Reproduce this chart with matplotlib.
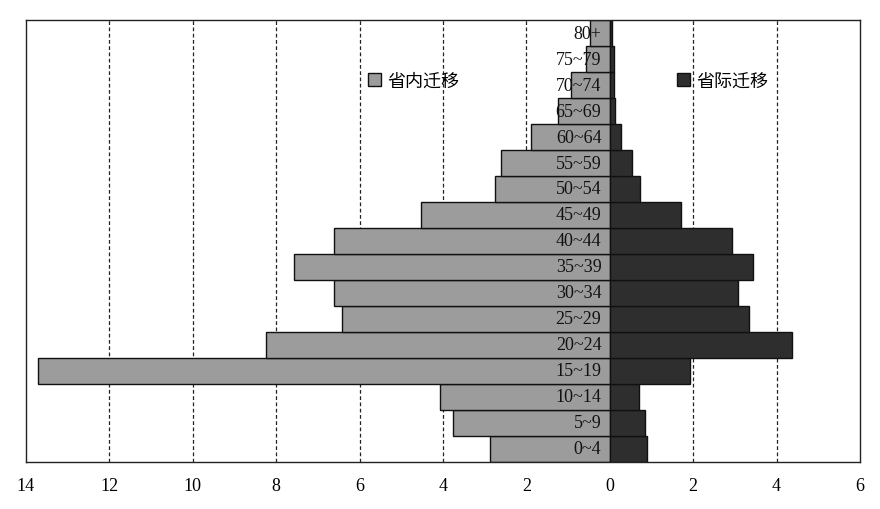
import numpy as np
import matplotlib
matplotlib.use('Agg')
import matplotlib.pyplot as plt
from matplotlib.patches import Patch

# age groups from bottom to top
ages = ['0~4', '5~9', '10~14', '15~19', '20~24', '25~29', '30~34', '35~39',
        '40~44', '45~49', '50~54', '55~59', '60~64', '65~69', '70~74', '75~79', '80+']
intra = [2.86, 3.77, 4.08, 13.70, 8.25, 6.43, 6.62, 7.57,
         6.62, 4.53, 2.76, 2.60, 1.88, 1.24, 0.92, 0.58, 0.48]
inter = [0.90, 0.85, 0.69, 1.93, 4.38, 3.34, 3.07, 3.44,
         2.94, 1.71, 0.72, 0.54, 0.26, 0.13, 0.10, 0.10, 0.06]
xticks = [-14, -12, -10, -8, -6, -4, -2, 0, 2, 4, 6]
legend_names = ['省内迁移', '省际迁移']

plt.rcParams['font.family'] = ['Liberation Serif', 'DejaVu Serif']

fig = plt.figure(figsize=(8.8, 5.1), dpi=100)
ax = fig.add_axes([0.0295, 0.0922, 0.9477, 0.8666])

y = np.arange(len(ages))
c_left = '#9c9c9c'
c_right = '#2e2e2e'
ax.barh(y, -np.array(intra), height=1.0, color=c_left, edgecolor='#111111', linewidth=1.0, zorder=2)
ax.barh(y, inter, height=1.0, color=c_right, edgecolor='#111111', linewidth=1.0, zorder=2)

for yi, lab in zip(y, ages):
    ax.text(-0.2, yi, lab, ha='right', va='center', fontsize=13, color='#111111', zorder=3)

ax.set_xlim(-14, 6)
ax.set_ylim(-0.5, len(ages) - 0.5)
ax.set_xticks(xticks)
ax.set_xticklabels([str(abs(v)) for v in xticks], fontsize=13)
ax.tick_params(axis='x', length=0, pad=11)
ax.set_yticks([])
for v in xticks[1:-1]:
    if v != 0:
        ax.axvline(v, color='#222222', linewidth=0.9, linestyle=(0, (3, 2)), zorder=1)
for s in ax.spines.values():
    s.set_color('#222222')
    s.set_linewidth(1.0)

cjk = ['Noto Sans CJK SC', 'DejaVu Sans']
leg_kw = dict(frameon=False, loc='center left', borderpad=0, borderaxespad=0,
              handlelength=0.7, handleheight=0.7, handletextpad=0.35,
              prop={'family': cjk, 'size': 13})
leg1 = ax.legend(handles=[Patch(facecolor=c_left, edgecolor='#111111')], labels=[legend_names[0]],
                 bbox_to_anchor=(0.41, 0.862), **leg_kw)
ax.add_artist(leg1)
ax.legend(handles=[Patch(facecolor=c_right, edgecolor='#111111')], labels=[legend_names[1]],
          bbox_to_anchor=(0.7806, 0.862), **leg_kw)

fig.savefig('out.png', dpi=100)
